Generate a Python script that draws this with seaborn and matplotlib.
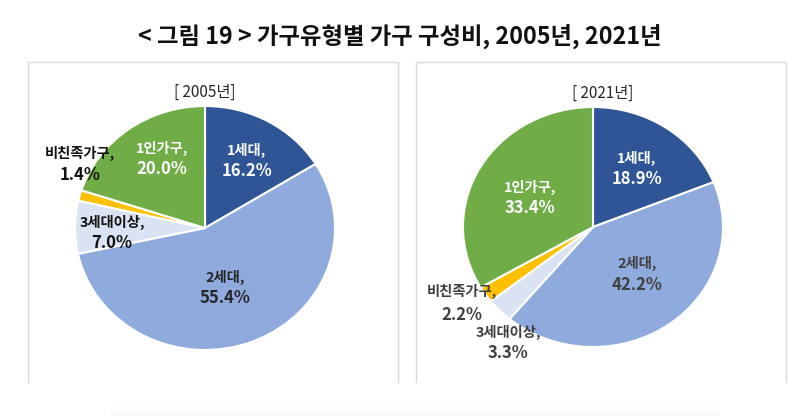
import numpy as np
import matplotlib.pyplot as plt
import seaborn as sns

categories = ['1세대', '2세대', '3세대이상', '비친족가구', '1인가구']
share_2005 = [16.2, 55.4, 7.0, 1.4, 20.0]
share_2021 = [18.9, 42.2, 3.3, 2.2, 33.4]
year_labels = ['[ 2005년]', '[ 2021년]']
title = '< 그림 19 > 가구유형별 가구 구성비, 2005년, 2021년'

colors = ['#2F5597', '#8FAADC', '#DAE3F3', '#FFC000', '#70AD47']

sns.set_theme(style='white')
plt.rcParams['font.family'] = ['Noto Sans CJK KR', 'DejaVu Sans']

W, H = 800, 416
fig = plt.figure(figsize=(8, 4.16), dpi=100)
fig.patch.set_facecolor('white')


def px_axes(left, top, right, bottom):
    return fig.add_axes([left / W, 1 - bottom / H, (right - left) / W, (bottom - top) / H])


# panel frames (open at the bottom)
for x0, x1 in [(28, 398), (416, 786)]:
    fig.add_artist(plt.Line2D([x0 / W, x0 / W], [1 - 382 / H, 1 - 62 / H], color='#D9D9D9', lw=1))
    fig.add_artist(plt.Line2D([x1 / W, x1 / W], [1 - 382 / H, 1 - 62 / H], color='#D9D9D9', lw=1))
    fig.add_artist(plt.Line2D([x0 / W, x1 / W], [1 - 62 / H, 1 - 62 / H], color='#D9D9D9', lw=1))

# faint shadow at the bottom
sh = px_axes(110, 400, 720, 416)
grad = np.linspace(0, 1, 20).reshape(-1, 1) ** 2 * np.ones((1, 50))
sh.imshow(grad, cmap='Greys', vmin=0, vmax=25, aspect='auto')
sh.axis('off')

fig.text(0.5, 1 - 37 / H, title, ha='center', va='center', fontsize=16.8,
         fontweight='bold', color='#111111')

# pie boxes in pixels: (center x, center y, radius x, radius y)
pies = [(205, 228, 130, 122), (593, 227, 130, 120)]
year_pos = [(205, 92), (603, 93)]

# label positions in pixels: (x, name y, percent y)
label_px = [
    [(247, 150, 171), (225, 277, 298), (112, 222, 243), (80, 153, 175), (162, 148, 169)],
    [(637, 158, 179), (637, 263, 285), (508, 332, 353), (462, 291, 315), (530, 187, 208)],
]
text_colors = [
    ['white', '#262626', '#111111', '#111111', 'white'],
    ['white', '#404040', '#404040', '#404040', 'white'],
]

for i, values in enumerate([share_2005, share_2021]):
    cx, cy, rx, ry = pies[i]
    ax = px_axes(cx - rx, cy - ry, cx + rx, cy + ry)
    ax.pie(values, colors=colors, startangle=90, counterclock=False,
           wedgeprops=dict(edgecolor='white', linewidth=1.5))
    ax.set_aspect('auto')
    ax.set_xlim(-1, 1)
    ax.set_ylim(-1, 1)
    ax.axis('off')

    for j, (cat, v) in enumerate(zip(categories, values)):
        lx, ny, py = label_px[i][j]
        c = text_colors[i][j]
        ax.text((lx - cx) / rx, (cy - ny) / ry, cat + ',', ha='center', va='center',
                fontsize=10.3, fontweight='bold', color=c)
        ax.text((lx - cx) / rx, (cy - py) / ry, f'{v:.1f}%', ha='center', va='center',
                fontsize=12, fontweight='bold', color=c)

    yx, yy = year_pos[i]
    fig.text(yx / W, 1 - yy / H, year_labels[i], ha='center', va='center',
             fontsize=11, color='#262626')

fig.savefig('out.png', dpi=100, facecolor='white')
